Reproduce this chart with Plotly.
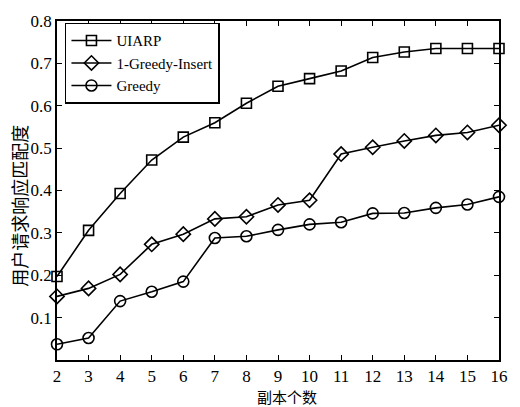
import plotly.graph_objects as go

replicas = [2, 3, 4, 5, 6, 7, 8, 9, 10, 11, 12, 13, 14, 15, 16]
uiarp = [0.197, 0.306, 0.393, 0.472, 0.526, 0.560, 0.606, 0.646, 0.664, 0.682, 0.714, 0.727, 0.735, 0.735, 0.735]
greedy_insert = [0.150, 0.169, 0.202, 0.273, 0.297, 0.333, 0.338, 0.366, 0.377, 0.486, 0.502, 0.517, 0.530, 0.537, 0.554]
greedy = [0.037, 0.052, 0.139, 0.161, 0.185, 0.288, 0.292, 0.307, 0.320, 0.325, 0.346, 0.347, 0.359, 0.367, 0.385]

x_title = "副本个数"
y_title = "用户请求响应匹配度"

series = [
    ("UIARP", uiarp, "square-open", 10),
    ("1-Greedy-Insert", greedy_insert, "diamond-open", 11),
    ("Greedy", greedy, "circle-open", 11),
]

fig = go.Figure()
for name, vals, sym, sz in series:
    fig.add_trace(go.Scatter(
        x=replicas, y=vals, name=name, mode="lines+markers",
        line=dict(color="black", width=1.6),
        marker=dict(symbol=sym, size=sz, color="black", line=dict(color="black", width=1.6)),
        cliponaxis=False,
    ))

serif = "Times New Roman"
cjk = "Noto Sans CJK SC"

fig.update_layout(
    width=520, height=407,
    margin=dict(l=57, r=15, t=14, b=47),
    paper_bgcolor="white", plot_bgcolor="white",
    font=dict(family=serif, size=17, color="black"),
    showlegend=True,
    legend=dict(
        x=0.018, y=0.995, xanchor="left", yanchor="top",
        bordercolor="black", borderwidth=1.5, bgcolor="white",
        font=dict(family=serif, size=15, color="black"),
        tracegroupgap=0, itemwidth=40,
    ),
    xaxis=dict(
        range=[2, 16], tickmode="array", tickvals=replicas,
        ticktext=[str(v) for v in replicas],
        ticks="inside", ticklen=5, tickwidth=1.2, tickcolor="black",
        showline=True, linecolor="black", linewidth=1.8, mirror="ticks",
        showgrid=False, zeroline=False,
        tickfont=dict(family=serif, size=17),
    ),
    yaxis=dict(
        range=[0, 0.8], tickmode="array",
        tickvals=[0.1, 0.2, 0.3, 0.4, 0.5, 0.6, 0.7, 0.8],
        ticktext=["0.1", "0.2", "0.3", "0.4", "0.5", "0.6", "0.7", "0.8"],
        ticks="inside", ticklen=5, tickwidth=1.2, tickcolor="black",
        showline=True, linecolor="black", linewidth=1.8, mirror="ticks",
        showgrid=False, zeroline=False,
        tickfont=dict(family=serif, size=17),
    ),
    annotations=[
        dict(text=x_title, xref="paper", yref="paper", x=0.52, y=0, yshift=-36,
             xanchor="center", yanchor="middle", showarrow=False,
             font=dict(family=cjk, size=15, color="black")),
        dict(text=y_title, xref="paper", yref="paper", x=0, xshift=-38, y=0.455,
             xanchor="center", yanchor="middle", textangle=-90, showarrow=False,
             font=dict(family=cjk, size=18, color="black")),
    ],
)

fig.write_html("out.html")
